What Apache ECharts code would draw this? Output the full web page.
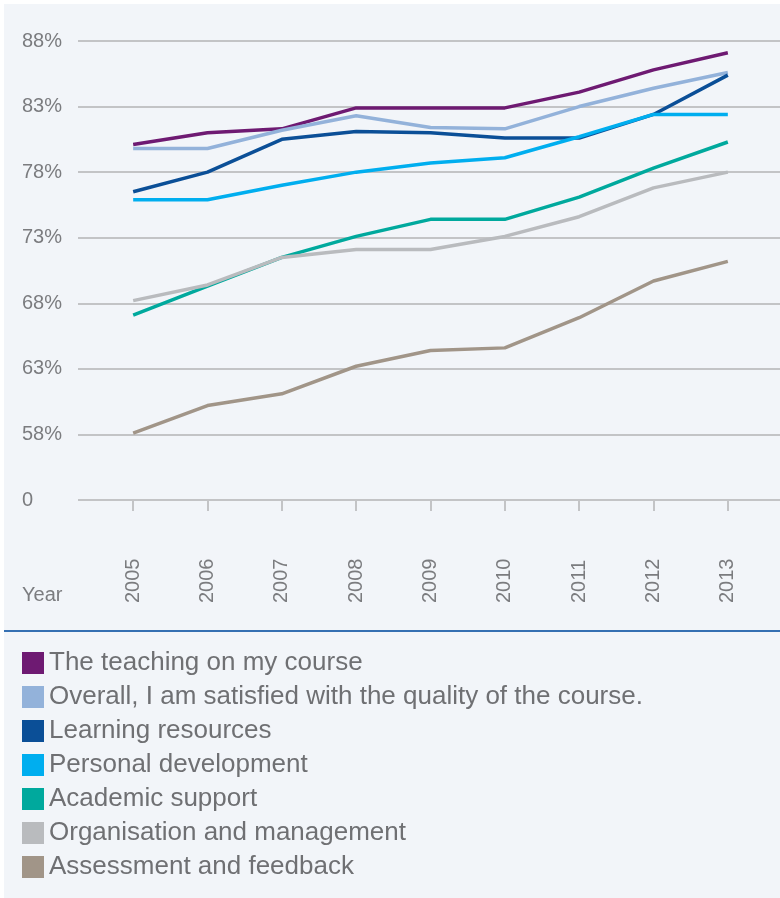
<!DOCTYPE html>
<html>
<head>
<meta charset="utf-8">
<script src="https://cdn.jsdelivr.net/npm/echarts@6/dist/echarts.min.js"></script>
<style>
html,body{margin:0;padding:0;background:#ffffff;}
#chart{width:780px;height:898px;}
</style>
</head>
<body>
<div id="chart"></div>
<script>
// ---- data ----
const years = ['2005','2006','2007','2008','2009','2010','2011','2012','2013'];
const seriesNames = [
  'The teaching on my course',
  'Overall, I am satisfied with the quality of the course.',
  'Learning resources',
  'Personal development',
  'Academic support',
  'Organisation and management',
  'Assessment and feedback'
];
const teaching     = [80.1, 81.0, 81.3, 82.9, 82.9, 82.9, 84.1, 85.8, 87.1];
const overall      = [79.8, 79.8, 81.2, 82.3, 81.4, 81.3, 83.0, 84.4, 85.6];
const learning     = [76.5, 78.0, 80.5, 81.1, 81.0, 80.6, 80.6, 82.4, 85.4];
const personal     = [75.9, 75.9, 77.0, 78.0, 78.7, 79.1, 80.7, 82.4, 82.4];
const academic     = [67.1, 69.3, 71.5, 73.1, 74.4, 74.4, 76.1, 78.3, 80.3];
const organisation = [68.2, 69.4, 71.5, 72.1, 72.1, 73.1, 74.6, 76.8, 78.0];
const assessment   = [58.1, 60.2, 61.1, 63.2, 64.4, 64.6, 66.9, 69.7, 71.2];
const yTickLabels  = ['0','58%','63%','68%','73%','78%','83%','88%'];
// axis is broken: the bottom tick ("0") stands for 53%
const AXIS_BASE = 53;

const seriesValues = [teaching, overall, learning, personal, academic, organisation, assessment];
const colors = ['#6e1a72','#93b2da','#0b4f97','#00aeef','#00a99d','#b9bbbe','#a19588'];

const textColor = '#7b7c7f';
const gridColor = '#c3c4c6';
const fontFam = '"Liberation Sans", Arial, sans-serif';

const chart = echarts.init(document.getElementById('chart'), null, {renderer:'canvas'});

const option = {
  backgroundColor: 'transparent',
  animation: false,
  color: colors,
  textStyle: {fontFamily: fontFam},
  graphic: [
    {type:'rect', z:-10, silent:true, shape:{x:4, y:4, width:776, height:894}, style:{fill:'#f2f5f9'}},
    {type:'line', z:5, silent:true, shape:{x1:4, y1:631, x2:780, y2:631}, style:{stroke:'#3570b2', lineWidth:2}},
    {type:'text', z:5, silent:true, left:22, top:585, style:{text:'Year', fill:textColor, font:'20px ' + fontFam}}
  ],
  grid: [
    {left:78, right:0, top:41, bottom:398},
    {left:96, right:15, top:41, bottom:398}
  ],
  xAxis: [
    {type:'value', gridIndex:0, show:false, min:0, max:1},
    {type:'category', gridIndex:1, data:years, boundaryGap:true,
     axisLine:{show:false},
     axisTick:{show:true, alignWithLabel:true, length:11, lineStyle:{color:gridColor, width:2}},
     axisLabel:{rotate:90, align:'left', verticalAlign:'middle', margin:103, fontSize:20, color:textColor, fontFamily:fontFam, interval:0},
     splitLine:{show:false}}
  ],
  yAxis: [
    {type:'value', gridIndex:0, min:0, max:35, interval:5,
     axisLine:{show:false}, axisTick:{show:false},
     axisLabel:{align:'left', margin:56, fontSize:20, color:textColor, fontFamily:fontFam,
       formatter: function(v){ return yTickLabels[Math.round(v/5)]; }},
     splitLine:{show:true, lineStyle:{color:gridColor, width:2}}},
    {type:'value', gridIndex:1, min:0, max:35, interval:5, show:false, splitLine:{show:false}}
  ],
  legend: {
    orient:'vertical', left:22, top:650, padding:0, itemWidth:22, itemHeight:22, itemGap:8,
    icon:'rect', selectedMode:false,
    textStyle:{fontSize:26, lineHeight:26, color:'#6f7073', fontFamily:fontFam},
    data: seriesNames
  },
  series: seriesNames.map(function(name, i){
    return {
      name: name, type:'line', xAxisIndex:1, yAxisIndex:1,
      data: seriesValues[i].map(function(v){ return +(v - AXIS_BASE).toFixed(2); }),
      showSymbol:false, symbol:'none',
      lineStyle:{width:3.5, color:colors[i]},
      itemStyle:{color:colors[i]},
      z: 2 + i
    };
  })
};
chart.setOption(option);
</script>
</body>
</html>
